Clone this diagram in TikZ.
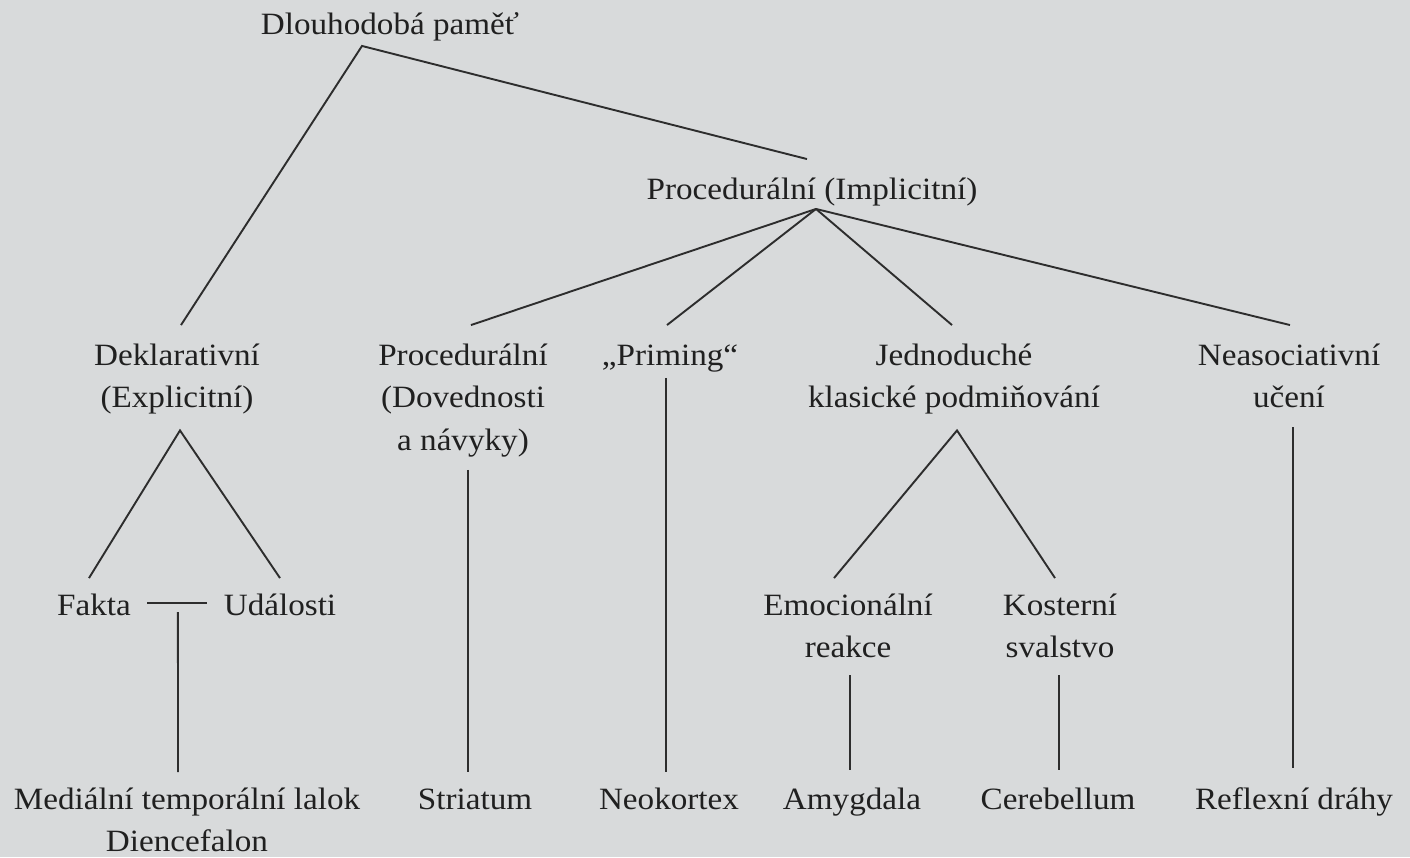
\documentclass[tikz,border=0pt]{standalone}
\usepackage{fontspec}
\setmainfont{Liberation Serif}[FakeStretch=1.07]
\usetikzlibrary{calc}
\definecolor{bgc}{RGB}{216,218,219}
\definecolor{inkc}{RGB}{32,32,32}
\definecolor{wirec}{RGB}{45,45,45}
\newcommand{\mytab}[1]{\begin{tabular}[t]{@{}c@{}}#1\end{tabular}}
\begin{document}
\begin{tikzpicture}[x=1pt,y=-1pt,
  lbl/.style={anchor=base, inner sep=0pt, text=inkc, font=\fontsize{31}{42.5}\selectfont},
  wire/.style={draw=wirec, line width=1.9pt}]
\fill[bgc] (0,0) rectangle (1410,857);
\useasboundingbox (0,0) rectangle (1410,857);
% nodes
\node[lbl] (root) at (390,34) {\mytab{Dlouhodobá paměť}};
\node[lbl] (impl) at (812,199) {\mytab{Procedurální (Implicitní)}};
\node[lbl] (dekl) at (177,365) {\mytab{Deklarativní\\(Explicitní)}};
\node[lbl] (proc) at (463,365) {\mytab{Procedurální\\(Dovednosti\\a návyky)}};
\node[lbl] (prim) at (670,365) {\mytab{„Priming“}};
\node[lbl] (jedn) at (954,365) {\mytab{Jednoduché\\klasické podmiňování}};
\node[lbl] (neas) at (1289,365) {\mytab{Neasociativní\\učení}};
\node[lbl] (fakta) at (94,615) {\mytab{Fakta}};
\node[lbl] (udal) at (280,615) {\mytab{Události}};
\node[lbl] (emoc) at (848,615) {\mytab{Emocionální\\reakce}};
\node[lbl] (kost) at (1060,615) {\mytab{Kosterní\\svalstvo}};
\node[lbl] (med) at (187,809) {\mytab{Mediální temporální lalok\\Diencefalon}};
\node[lbl] (stri) at (475,809) {\mytab{Striatum}};
\node[lbl] (neok) at (669,809) {\mytab{Neokortex}};
\node[lbl] (amyg) at (852,809) {\mytab{Amygdala}};
\node[lbl] (cere) at (1058,809) {\mytab{Cerebellum}};
\node[lbl] (refl) at (1294,809) {\mytab{Reflexní dráhy}};
% connectors
\coordinate (rootA) at ($(root.south)+(-28,-1)$);
\draw[wire] ($(dekl.north)+(4,-10)$) -- (rootA) -- ($(impl.north)+(-5,-10)$);
\coordinate (implA) at ($(impl.south)+(4,-3)$);
\draw[wire] (implA) -- ($(proc.north)+(8,-10)$);
\draw[wire] (implA) -- ($(prim.north)+(-3,-10)$);
\draw[wire] (implA) -- ($(jedn.north)+(-2,-10)$);
\draw[wire] (implA) -- ($(neas.north)+(1,-10)$);
\coordinate (deklA) at ($(dekl.south)+(3,10)$);
\draw[wire] ($(fakta.north)+(-5,-7)$) -- (deklA) -- ($(udal.north)+(0,-7)$);
\coordinate (fuMid) at ($(fakta.east)!0.5!(udal.west)$);
\draw[wire] ($(fakta.east)+(16,-3.5)$) -- ($(udal.west)+(-17,-3.5)$);
\draw[wire] ($(fuMid)+(0.6,5.5)$) -- ($(med.north)+(-9,-7)$);
\draw[wire] ($(proc.south)+(5,7)$) -- ($(stri.north)+(-7,-7)$);
\draw[wire] ($(prim.south)+(-4,0)$) -- ($(neok.north)+(-3,-7)$);
\coordinate (jednA) at ($(jedn.south)+(3,10)$);
\draw[wire] ($(emoc.north)+(-14,-7)$) -- (jednA) -- ($(kost.north)+(-5,-7)$);
\draw[wire] ($(emoc.south)+(2,5)$) -- ($(amyg.north)+(-2,-9)$);
\draw[wire] ($(kost.south)+(-1,5)$) -- ($(cere.north)+(1,-9)$);
\draw[wire] ($(neas.south)+(4,7)$) -- ($(refl.north)+(-1,-11)$);
\end{tikzpicture}
\end{document}
